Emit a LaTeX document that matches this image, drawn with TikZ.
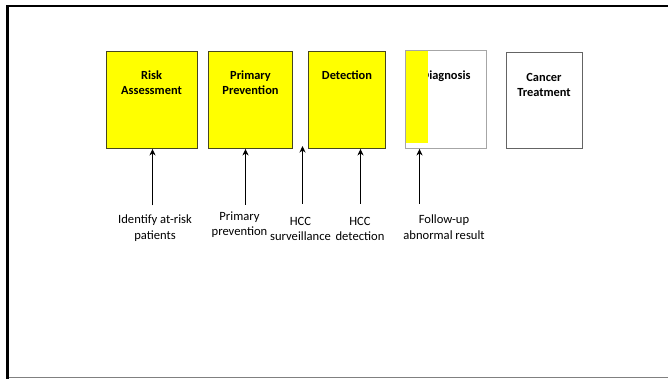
\documentclass[tikz,border=0pt]{standalone}
\usepackage{fontspec}
\setmainfont{Carlito}
\usetikzlibrary{arrows.meta}
\definecolor{boxyellow}{RGB}{255,255,0}
\definecolor{darkrim}{RGB}{70,70,30}
\definecolor{lightrim}{RGB}{166,166,166}
\definecolor{midrim}{RGB}{100,100,100}
\definecolor{framegray}{RGB}{128,128,128}
\begin{document}
\begin{tikzpicture}[x=1pt,y=-1pt,
  stagebox/.style={draw=#1, line width=0.9pt, inner sep=0pt, anchor=north west},
  boxtext/.style={font=\fontsize{12.4}{15.3}\selectfont\bfseries, align=center, inner sep=0pt, anchor=base},
  labtext/.style={font=\fontsize{12.6}{15.2}\selectfont, align=center, inner sep=0pt, anchor=base},
  arr/.style={line width=1.3pt, -{Stealth[length=6.5pt,width=6pt,inset=2pt]}}
]
\useasboundingbox (0,0) rectangle (668,379);
% frame
\draw[black, line width=2.8pt] (7.5,379) -- (7.5,6) -- (668,6);
\draw[framegray, line width=1.2pt] (9,377.6) -- (668,377.6);

% boxes
\node[stagebox=darkrim, fill=boxyellow, minimum width=91pt, minimum height=97pt] (ra) at (106,51) {};
\node[stagebox=darkrim, fill=boxyellow, minimum width=84pt, minimum height=97pt] (pp) at (208,51) {};
\node[stagebox=darkrim, fill=boxyellow, minimum width=77pt, minimum height=97pt] (dt) at (308,51) {};
\node[stagebox=lightrim, fill=white, minimum width=81pt, minimum height=98pt] (dg) at (405,50) {};
\node[stagebox=midrim, fill=white, minimum width=76pt, minimum height=96pt] (ct) at (506,52) {};

% box texts (base = baseline of last line)
\node[boxtext] (ratext) at (151.5,95) {Risk\\Assessment};
\node[boxtext] (pptext) at (250.5,95) {Primary\\Prevention};
\node[boxtext] (dttext) at (347,79.5) {Detection};
\node[boxtext] (dgtext) at (446,79.5) {Diagnosis};
\node[boxtext] (cttext) at (544,97) {Cancer\\Treatment};

% partial yellow fill over diagnosis
\node[fill=boxyellow, inner sep=0pt, minimum width=22.5pt, minimum height=92pt, anchor=north west] (dgfill) at (405.6,51.3) {};

% labels (base = baseline of last line)
\node[labtext] (l1) at (155,239) {Identify at-risk\\patients};
\node[labtext] (l2) at (239.5,235.5) {Primary\\prevention};
\node[labtext] (l3) at (300.5,240.5) {HCC\\surveillance};
\node[labtext] (l4) at (360,240.5) {HCC\\detection};
\node[labtext] (l5) at (444,239) {Follow-up\\abnormal result};

% arrows
\coordinate (t1) at (152.5,205.5);
\coordinate (t2) at (245.5,205);
\coordinate (t3) at (302.5,204);
\coordinate (h3) at (302.5,146);
\coordinate (t4) at (360.5,204);
\coordinate (t5) at (419.5,204);
\draw[arr] (t1) -- (t1 |- ra.south);
\draw[arr] (t2) -- (t2 |- pp.south);
\draw[arr] (t3) -- (h3);
\draw[arr] (t4) -- (t4 |- dt.south);
\draw[arr] (t5) -- (t5 |- dg.south);
\end{tikzpicture}
\end{document}
